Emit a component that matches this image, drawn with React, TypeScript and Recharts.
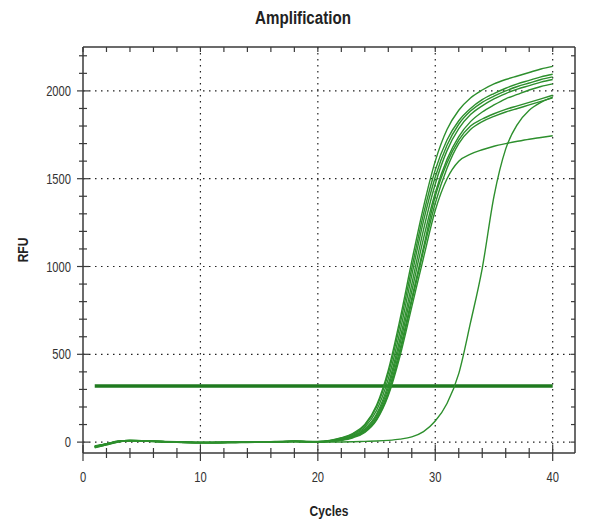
import React from 'react';
import { LineChart, Line, XAxis, YAxis, CartesianGrid, Label } from 'recharts';

const cycles = [1, 2, 3, 4, 5, 6, 7, 8, 9, 10, 11, 12, 13, 14, 15, 16, 17, 18, 19, 20, 21, 22, 23, 24, 25, 26, 27, 28, 29, 30, 31, 32, 33, 34, 35, 36, 37, 38, 39, 40];

const well1 = [-26, -12, 4, 9, 7, 5, 3, 1, -1, -2, -2, -1, 0, 0, 1, 2, 4, 5, 4, 4, 10, 25, 50, 100, 210, 410, 700, 1030, 1340, 1600, 1780, 1890, 1960, 2005, 2040, 2065, 2085, 2105, 2125, 2140];
const well2 = [-30, -15, 2, 8, 6, 4, 2, 0, -2, -3, -3, -2, -1, -1, 0, 1, 3, 4, 3, 2, 8, 22, 45, 95, 200, 390, 670, 990, 1300, 1550, 1720, 1830, 1900, 1950, 1985, 2015, 2040, 2060, 2080, 2095];
const well3 = [-24, -10, 5, 10, 8, 5, 3, 1, -1, -2, -2, -2, -1, 0, 0, 2, 3, 5, 3, 2, 6, 18, 40, 85, 180, 360, 630, 950, 1260, 1510, 1690, 1810, 1885, 1935, 1970, 2000, 2025, 2045, 2065, 2080];
const well4 = [-28, -13, 3, 7, 5, 3, 1, -1, -3, -4, -4, -3, -2, -1, -1, 0, 2, 3, 2, 1, 5, 15, 35, 75, 160, 330, 590, 900, 1210, 1470, 1660, 1785, 1865, 1915, 1955, 1985, 2010, 2030, 2050, 2065];
const well5 = [-22, -9, 6, 10, 8, 6, 4, 2, 0, -1, -1, 0, 1, 1, 2, 3, 4, 6, 4, 3, 5, 14, 32, 70, 150, 310, 560, 860, 1160, 1420, 1610, 1740, 1825, 1880, 1920, 1955, 1980, 2005, 2025, 2040];
const well6 = [-32, -16, 1, 7, 5, 3, 1, -1, -3, -3, -4, -3, -2, -2, -1, 0, 2, 3, 1, 0, 4, 12, 30, 65, 140, 290, 530, 820, 1110, 1400, 1590, 1720, 1800, 1840, 1870, 1895, 1915, 1935, 1955, 1975];
const well7 = [-25, -11, 4, 9, 7, 5, 3, 1, -1, -2, -2, -1, 0, 0, 1, 1, 3, 4, 3, 1, 4, 11, 28, 60, 130, 275, 510, 800, 1090, 1360, 1560, 1700, 1780, 1825, 1855, 1880, 1900, 1920, 1940, 1960];
const well8 = [-27, -12, 3, 8, 6, 4, 2, 0, -2, -3, -3, -2, -1, -1, 0, 1, 2, 4, 2, 1, 4, 10, 25, 55, 125, 265, 490, 770, 1050, 1320, 1500, 1600, 1640, 1665, 1685, 1700, 1713, 1725, 1735, 1745];
const wellLate = [-24, -10, 4, 8, 6, 4, 2, 0, -2, -3, -3, -2, -2, -1, -1, 0, 1, 2, 1, 0, 0, 1, 2, 4, 6, 10, 17, 30, 60, 120, 220, 390, 680, 990, 1400, 1670, 1810, 1890, 1935, 1965];

const thresholdValue = 320;

const seriesKeys = ['w1', 'w2', 'w3', 'w4', 'w5', 'w6', 'w7', 'w8', 'wLate'];
const seriesValues = [well1, well2, well3, well4, well5, well6, well7, well8, wellLate];

const xTicks = [0, 2, 4, 6, 8, 10, 12, 14, 16, 18, 20, 22, 24, 26, 28, 30, 32, 34, 36, 38, 40];
const yTicks = [0, 100, 200, 300, 400, 500, 600, 700, 800, 900, 1000, 1100, 1200, 1300, 1400, 1500, 1600, 1700, 1800, 1900, 2000, 2100, 2200];
const xLabelStep = 10;
const yLabelStep = 500;
const xGridValues = [10, 20, 30, 40];
const yGridValues = [0, 500, 1000, 1500, 2000];

const rows = cycles.map((c, i) => {
  const r: Record<string, number> = { cycle: c, threshold: thresholdValue };
  seriesKeys.forEach((k, j) => {
    r[k] = seriesValues[j][i];
  });
  return r;
});

const XDOMAIN: [number, number] = [0, 41.9];
const YDOMAIN: [number, number] = [-62, 2250];
const FONT = "'Liberation Sans', Arial, sans-serif";
const AXIS_COLOR = '#3a3a3a';
const LINE_COLOR = '#2d8f2d';

function TickText({ x, y, anchor, dy, children }: any) {
  return (
    <g transform={`translate(${x},${y}) scale(0.86,1.1)`}>
      <text x={0} y={0} dy={dy} textAnchor={anchor} fill="#333" fontSize={13} fontFamily={FONT}>
        {children}
      </text>
    </g>
  );
}

function LeftTick(props: any) {
  const { x, y, payload } = props;
  const major = payload.value % yLabelStep === 0;
  const len = major ? 6 : 4;
  return (
    <g>
      <line x1={x - len} x2={x + len} y1={y} y2={y} stroke={AXIS_COLOR} strokeWidth={1.2} />
      {major && (
        <TickText x={x - 12} y={y} anchor="end" dy="0.355em">
          {payload.value}
        </TickText>
      )}
    </g>
  );
}

function BottomTick(props: any) {
  const { x, y, payload } = props;
  const major = payload.value % xLabelStep === 0;
  const len = major ? 8 : 5;
  return (
    <g>
      <line x1={x} x2={x} y1={y - len} y2={y + len} stroke={AXIS_COLOR} strokeWidth={1.2} />
      {major && (
        <TickText x={x} y={y + 19} anchor="middle" dy="0.71em">
          {payload.value}
        </TickText>
      )}
    </g>
  );
}

function TopTick(props: any) {
  const { x, y } = props;
  return <line x1={x} x2={x} y1={y} y2={y + 5} stroke={AXIS_COLOR} strokeWidth={1.2} />;
}

function RightTick(props: any) {
  const { x, y } = props;
  return <line x1={x - 4} x2={x} y1={y} y2={y} stroke={AXIS_COLOR} strokeWidth={1.2} />;
}

function NarrowLabel(props: any) {
  const { viewBox, value, vertical } = props;
  if (!viewBox) return null;
  const { x, y, width, height } = viewBox;
  const cx = vertical ? x + 23 : x + width / 2;
  const cy = vertical ? y + height / 2 : y + height - 17;
  return (
    <g transform={`translate(${cx},${cy})${vertical ? ' rotate(-90)' : ''} scale(0.86,1.1)`}>
      <text x={0} y={0} dy="0.355em" textAnchor="middle" fill="#222" fontSize={14} fontWeight="bold" fontFamily={FONT}>
        {value}
      </text>
    </g>
  );
}

export default function App() {
  const axisLine = { stroke: AXIS_COLOR, strokeWidth: 1.5 };
  return (
    <div style={{ position: 'absolute', left: 0, top: 0, width: 589, height: 528, background: '#fff' }}>
      <div
        style={{
          position: 'absolute',
          left: 203,
          top: 8,
          width: 200,
          textAlign: 'center',
          fontFamily: FONT,
          fontWeight: 'bold',
          fontSize: 18,
          color: '#222',
          transform: 'scaleX(0.84)',
        }}
      >
        Amplification
      </div>
      <LineChart
        width={589}
        height={528}
        data={rows}
        margin={{ top: 46, right: 13, bottom: 0, left: 0 }}
      >
        <CartesianGrid
          stroke="#222"
          strokeDasharray="1.5 4.5"
          strokeWidth={1.2}
          verticalValues={xGridValues}
          horizontalValues={yGridValues}
        />
        <XAxis
          dataKey="cycle"
          type="number"
          domain={XDOMAIN}
          allowDataOverflow
          ticks={xTicks}
          interval={0}
          height={75}
          tickSize={0}
          tickMargin={0}
          axisLine={axisLine}
          tickLine={false}
          tick={<BottomTick />}
        >
          <Label value="Cycles" content={<NarrowLabel />} />
        </XAxis>
        <XAxis
          xAxisId="top"
          dataKey="cycle"
          orientation="top"
          type="number"
          domain={XDOMAIN}
          allowDataOverflow
          ticks={xTicks}
          interval={0}
          height={1}
          tickSize={0}
          tickMargin={0}
          axisLine={axisLine}
          tickLine={false}
          tick={<TopTick />}
        />
        <YAxis
          type="number"
          domain={YDOMAIN}
          allowDataOverflow
          ticks={yTicks}
          interval={0}
          width={83}
          tickSize={0}
          tickMargin={0}
          axisLine={axisLine}
          tickLine={false}
          tick={<LeftTick />}
        >
          <Label value="RFU" content={<NarrowLabel vertical />} />
        </YAxis>
        <YAxis
          yAxisId="right"
          orientation="right"
          type="number"
          domain={YDOMAIN}
          allowDataOverflow
          ticks={yTicks}
          interval={0}
          width={1}
          tickSize={0}
          tickMargin={0}
          axisLine={axisLine}
          tickLine={false}
          tick={<RightTick />}
        />
        <Line dataKey="threshold" xAxisId="top" yAxisId="right" stroke="none" strokeOpacity={0} dot={false} activeDot={false} isAnimationActive={false} legendType="none" />
        <Line
          dataKey="threshold"
          stroke="#1f7a1f"
          strokeWidth={3.5}
          dot={false}
          isAnimationActive={false}
          type="linear"
        />
        {seriesKeys.map((k) => (
          <Line
            key={k}
            dataKey={k}
            stroke={LINE_COLOR}
            strokeWidth={1.4}
            dot={false}
            isAnimationActive={false}
            type="monotone"
          />
        ))}
      </LineChart>
    </div>
  );
}
